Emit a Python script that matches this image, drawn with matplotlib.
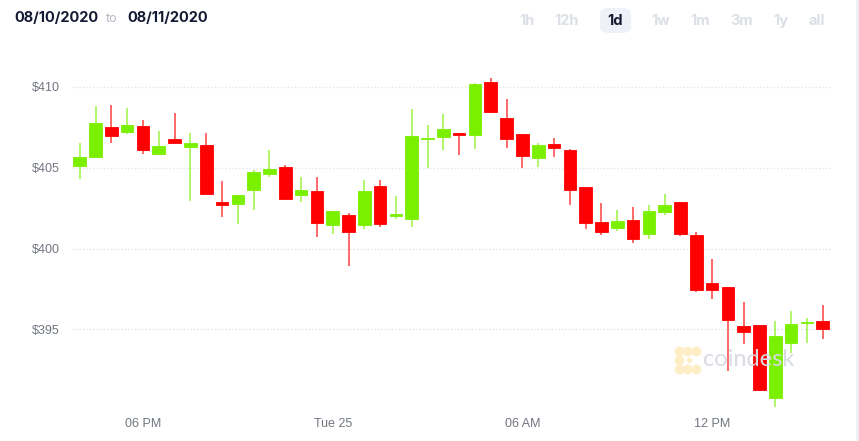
import matplotlib
matplotlib.use("Agg")
import matplotlib.pyplot as plt
from matplotlib.patches import FancyBboxPatch, Rectangle

# 30-minute candles (open, high, low, close)
opens = [405.08, 405.63, 407.51, 407.18, 407.57, 405.86, 406.75, 406.25, 406.40, 402.87,
         402.77, 403.61, 404.60, 405.02, 403.31, 403.55, 401.47, 402.07, 401.43, 403.84,
         402.03, 401.84, 406.79, 406.87, 407.14, 407.03, 410.27, 408.04, 407.08, 405.57,
         406.44, 406.09, 403.78, 401.62, 401.25, 401.78, 400.88, 402.23, 402.85, 400.81,
         397.87, 397.62, 395.19, 395.27, 390.74, 394.18, 395.40, 395.50]
highs = [406.50, 408.81, 408.85, 408.68, 407.94, 407.26, 408.39, 407.12, 407.16, 404.17,
         403.29, 404.85, 406.09, 405.16, 404.40, 404.42, 402.30, 402.17, 404.25, 404.21,
         403.24, 408.60, 407.61, 408.29, 407.14, 410.21, 410.54, 409.22, 407.08, 406.54,
         406.83, 406.13, 403.78, 402.83, 402.36, 402.56, 402.67, 403.35, 402.85, 401.00,
         399.33, 397.62, 396.67, 395.30, 395.52, 396.16, 395.73, 396.51]
lows = [404.27, 405.60, 406.50, 407.10, 405.84, 405.84, 406.50, 402.96, 403.37, 401.97,
        401.51, 402.38, 404.44, 403.05, 402.89, 400.73, 400.92, 398.92, 401.18, 401.31,
        401.82, 401.35, 404.95, 406.09, 405.78, 406.17, 408.35, 406.19, 405.00, 405.06,
        405.67, 402.67, 401.23, 400.83, 401.10, 400.32, 400.59, 402.05, 400.79, 397.33,
        396.86, 392.45, 394.12, 391.22, 390.19, 393.56, 394.18, 394.41]
closes = [405.65, 407.75, 406.97, 407.61, 406.09, 406.33, 406.54, 406.50, 403.39, 402.71,
          403.29, 404.75, 404.91, 403.08, 403.64, 401.60, 402.30, 401.04, 403.57, 401.49,
          402.15, 406.95, 406.85, 407.40, 407.03, 410.16, 408.41, 406.79, 405.74, 406.40,
          406.19, 403.64, 401.60, 401.02, 401.72, 400.61, 402.32, 402.69, 400.92, 397.46,
          397.44, 395.60, 394.82, 391.28, 394.59, 395.31, 395.46, 395.05]

tick_pos = [4, 16, 28, 40]
tick_labels = ["06 PM", "Tue 25", "06 AM", "12 PM"]
y_ticks = [395, 400, 405, 410]
ranges = ["1h", "12h", "1d", "1w", "1m", "3m", "1y", "all"]
range_x = [527, 567, 615, 661, 700, 742, 781, 817]

W, H = 859, 441
GREEN = "#7bef00"
RED = "#ff0000"

fig = plt.figure(figsize=(W / 100, H / 100), dpi=100)
fig.patch.set_facecolor("white")
ax = fig.add_axes([72 / W, 31 / H, 759 / W, 360 / H])

xs = list(range(len(opens)))
cols = [GREEN if c >= o else RED for o, c in zip(opens, closes)]
bottoms = [min(o, c) for o, c in zip(opens, closes)]
heights = [max(abs(c - o), 0.06) for o, c in zip(opens, closes)]

ax.vlines(xs, lows, highs, colors=cols, linewidth=1.1, alpha=0.75, zorder=2)
ax.bar(xs, heights, bottom=bottoms, width=0.8, color=cols, edgecolor=cols,
       linewidth=0.6, zorder=3)

ax.set_xlim(-0.49, 47.52)
ax.set_ylim(390.02, 412.27)

for y in y_ticks:
    ax.axhline(y, color="#dfe4ee", linewidth=1, linestyle=(0, (1, 1.5)), zorder=1)

ax.set_yticks(y_ticks)
ax.set_yticklabels(["$%d" % y for y in y_ticks])
ax.set_xticks(tick_pos)
ax.set_xticklabels(tick_labels)
ax.tick_params(axis="y", length=0, pad=9, labelsize=9, labelcolor="#70757f")
ax.tick_params(axis="x", length=0, pad=6, labelsize=9, labelcolor="#70757f")
for lab in ax.get_xticklabels() + ax.get_yticklabels():
    lab.set_family("Liberation Sans")
for s in ax.spines.values():
    s.set_visible(False)

# header
def fx(px):
    return px / W

def fy(py):
    return 1 - py / H

fig.text(fx(14), fy(18), "08/10/2020", family="Inter", weight="bold", size=10.5,
         color="#141a33", va="center")
fig.text(fx(106), fy(19), "to", family="Inter", size=9, color="#b3b7c2", va="center")
fig.text(fx(127), fy(18), "08/11/2020", family="Inter", weight="bold", size=10.5,
         color="#141a33", va="center")

fig.patches.append(FancyBboxPatch((fx(600), fy(33)), fx(31), 25 / H,
                                  boxstyle="round,pad=0,rounding_size=0.012",
                                  transform=fig.transFigure, facecolor="#eef1f7",
                                  edgecolor="none"))
for lab, px in zip(ranges, range_x):
    fig.text(fx(px), fy(21), lab, family="Inter", weight="bold", size=10.5,
             color="#151a30" if lab == "1d" else "#dcdfe6", ha="center", va="center")

# right edge strip
fig.patches.append(Rectangle((fx(856), 0), fx(3), 1, transform=fig.transFigure,
                             facecolor="#eef0f4", edgecolor="none"))

# watermark: dotted bracket logo + wordmark
logo = "#fdeec6"
lx = [fx(v) for v in (696, 687, 679, 679, 679, 687, 696)]
ly = [fy(v) for v in (351, 351, 351, 360, 369, 369, 369)]
fig.add_artist(plt.Line2D(lx, ly, transform=fig.transFigure, color=logo,
                          linewidth=3, marker="o", markersize=6, zorder=1))
fig.add_artist(plt.Line2D([fx(689)], [fy(360)], transform=fig.transFigure,
                          color=logo, marker="o", markersize=3, linestyle="none"))
fig.text(fx(703), fy(360), "coindesk", family="Lato", size=17, color="#d8dbe1",
         va="center", ha="left")

fig.savefig("out.png", dpi=100)
